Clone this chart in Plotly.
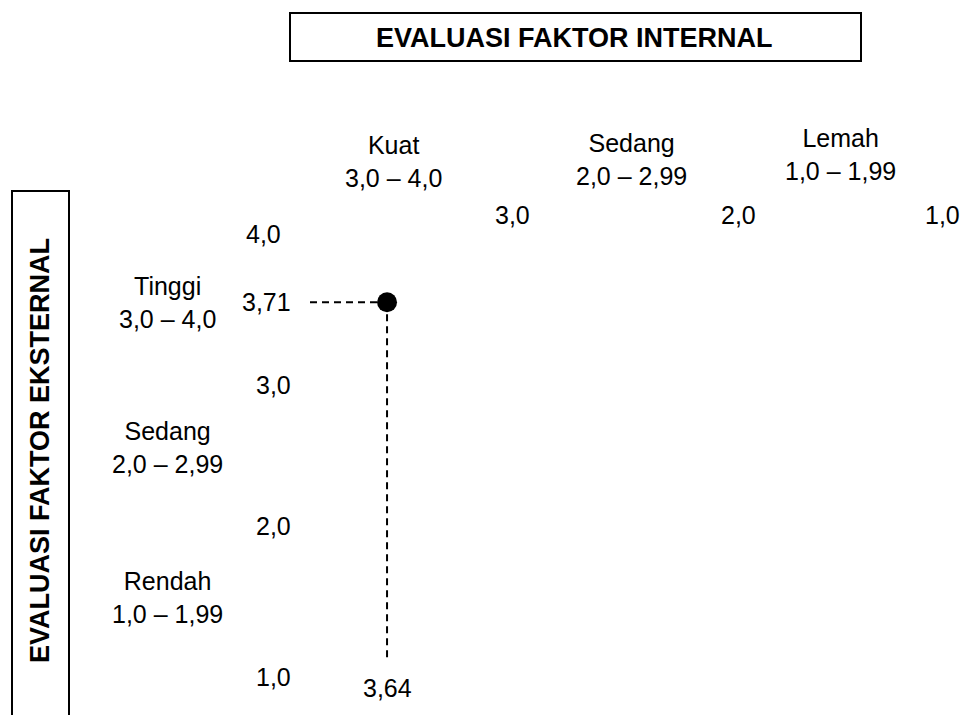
import plotly.graph_objects as go

# ---------------- data ----------------
ife_bounds = [4.0, 3.0, 2.0, 1.0]          # internal factor evaluation scale (x)
efe_bounds = [4.0, 3.0, 2.0, 1.0]          # external factor evaluation scale (y)
ife_categories = ["Kuat", "Sedang", "Lemah"]
ife_ranges = ["3,0 – 4,0", "2,0 – 2,99", "1,0 – 1,99"]
efe_categories = ["Tinggi", "Sedang", "Rendah"]
efe_ranges = ["3,0 – 4,0", "2,0 – 2,99", "1,0 – 1,99"]
ife_score = 3.64
efe_score = 3.71
title_x = "EVALUASI FAKTOR INTERNAL"
title_y = "EVALUASI FAKTOR EKSTERNAL"


def fmt1(v):
    return f"{v:.1f}".replace(".", ",")


def fmt2(v):
    return f"{v:.2f}".replace(".", ",")


FONT = "Liberation Sans, Arial, Helvetica, sans-serif"
REG = dict(family=FONT, size=25, color="black")
BOLD = dict(family=FONT, size=27, color="black", weight="bold")

# page body has an 8px margin, so the figure is drawn 8px in from the window edge
OFF = 8
W, H = 970 - OFF, 715 - OFF

fig = go.Figure()

# dashed guide lines from the axes to the point
fig.add_trace(go.Scatter(
    x=[ife_bounds[0], ife_score], y=[efe_score, efe_score], mode="lines",
    line=dict(color="black", width=2, dash="7px,5px"), hoverinfo="skip", showlegend=False))
fig.add_trace(go.Scatter(
    x=[ife_score, ife_score], y=[efe_score, efe_bounds[-1]], mode="lines",
    line=dict(color="black", width=2, dash="7px,5px"), hoverinfo="skip", showlegend=False))
# the point
fig.add_trace(go.Scatter(
    x=[ife_score], y=[efe_score], mode="markers",
    marker=dict(color="black", size=20), showlegend=False))

ann = []
# y tick labels (the 4,0 one is shared with the x scale)
y_nudge = [(-47, 30), (-37, 11), (-37, 2), (-37, -17)]
for v, (dx, dy) in zip(efe_bounds, y_nudge):
    ann.append(dict(x=ife_bounds[0], y=v, xref="x", yref="y", text=fmt1(v),
                    showarrow=False, xshift=dx, yshift=dy, font=REG))
# x tick labels
x_nudge = [(-12, 49), (0, 49), (-10, 49)]
for v, (dx, dy) in zip(ife_bounds[1:], x_nudge):
    ann.append(dict(x=v, y=efe_bounds[0], xref="x", yref="y", text=fmt1(v),
                    showarrow=False, xshift=dx, yshift=dy, font=REG))
# column category labels
col_nudge = [(-24, 103), (0, 105), (-5, 110)]
for i, (name, rng) in enumerate(zip(ife_categories, ife_ranges)):
    mid = (ife_bounds[i] + ife_bounds[i + 1]) / 2
    dx, dy = col_nudge[i]
    ann.append(dict(x=mid, y=efe_bounds[0], xref="x", yref="y", text=f"{name}<br>{rng}",
                    showarrow=False, xshift=dx, yshift=dy, font=REG, align="center"))
# row category labels
row_nudge = [28, 15, -3]
for i, (name, rng) in enumerate(zip(efe_categories, efe_ranges)):
    mid = (efe_bounds[i] + efe_bounds[i + 1]) / 2
    ann.append(dict(x=ife_bounds[0], y=mid, xref="x", yref="y", text=f"{name}<br>{rng}",
                    showarrow=False, xshift=-143, yshift=row_nudge[i], font=REG, align="center"))
# point value labels
ann.append(dict(x=ife_bounds[0], y=efe_score, xref="x", yref="y", text=fmt2(efe_score),
                showarrow=False, xshift=-44, font=REG))
ann.append(dict(x=ife_score, y=efe_bounds[-1], xref="x", yref="y", text=fmt2(ife_score),
                showarrow=False, yshift=-28, font=REG))


def px(v):
    return (v - OFF) / W


def py(v):
    return 1 - (v - OFF) / H


# box titles
ann.append(dict(x=px(574), y=py(38), xref="paper", yref="paper", text=title_x,
                showarrow=False, font=BOLD, xanchor="center", yanchor="middle"))
ann.append(dict(x=px(40), y=py(451), xref="paper", yref="paper", text=title_y,
                showarrow=False, font=BOLD, textangle=-90, xanchor="center", yanchor="middle"))

shapes = [
    dict(type="rect", xref="paper", yref="paper", x0=px(290), x1=px(861),
         y0=py(61), y1=py(13), line=dict(color="black", width=2)),
    dict(type="rect", xref="paper", yref="paper", x0=px(12), x1=px(69),
         y0=-0.03, y1=py(191), line=dict(color="black", width=2)),
]

# axis ranges chosen so x=4 sits at 310px / y=4 at 264px of the window
fig.update_layout(
    width=W, height=H,
    margin=dict(l=0, r=0, t=0, b=0),
    paper_bgcolor="white", plot_bgcolor="white",
    xaxis=dict(range=[5.4112, 0.9159], visible=False, showgrid=False, zeroline=False),
    yaxis=dict(range=[0.5833, 5.9394], visible=False, showgrid=False, zeroline=False),
    annotations=ann, shapes=shapes, showlegend=False,
)

fig.write_html("out.html")
